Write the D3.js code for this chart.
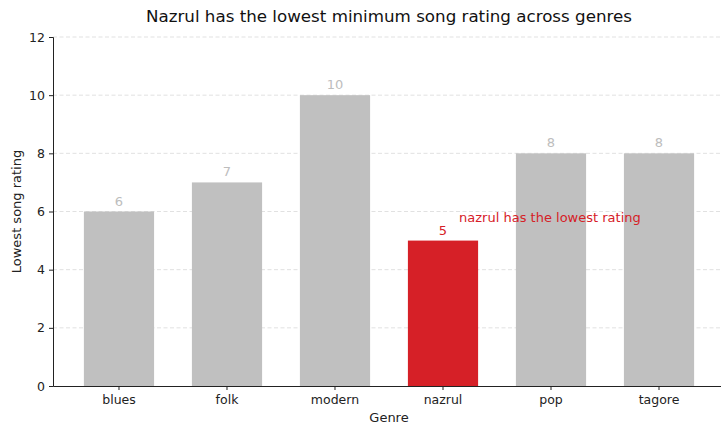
<!DOCTYPE html>
<html><head><meta charset="utf-8">
<script src="https://cdn.jsdelivr.net/npm/d3@7"></script>
<style>body{margin:0;background:#fff}svg{display:block;font-family:"DejaVu Sans",sans-serif}</style>
</head><body><svg id="c" width="721" height="426"></svg>
<script>
const genres = ["blues","folk","modern","nazrul","pop","tagore"];
const minRatings = [6,7,10,5,8,8];
const yTicks = [0,2,4,6,8,10,12];
const highlight = "nazrul";
const titleText = "Nazrul has the lowest minimum song rating across genres";
const annotation = "nazrul has the lowest rating";

(function(){
const svg = d3.select("#c");
const mLeft = 53, mRight = 725, mTop = 37, mBottom = 386;
const x = d3.scaleBand().domain(genres).range([mLeft, mRight]).paddingInner(0.35).paddingOuter(0.286);
const y = d3.scaleLinear().domain([0,12]).range([mBottom, mTop]);

// grid
svg.append("g").selectAll("line").data(yTicks.filter(d=>d>0)).join("line")
  .attr("x1", mLeft).attr("x2", 721).attr("y1", d=>y(d)).attr("y2", d=>y(d))
  .attr("stroke", "#d9d9d9").attr("stroke-width", 0.8).attr("stroke-dasharray", "4,2.5");

const data = genres.map((g,i)=>({g, v:minRatings[i]}));
svg.append("g").selectAll("rect").data(data).join("rect")
  .attr("x", d=>x(d.g)).attr("width", x.bandwidth())
  .attr("y", d=>y(d.v)).attr("height", d=>y(0)-y(d.v))
  .attr("fill", d=>d.g===highlight ? "#d62027" : "#c0c0c0");

svg.append("g").selectAll("text").data(data).join("text")
  .attr("x", d=>x(d.g)+x.bandwidth()/2).attr("y", d=>y(d.v)-6)
  .attr("text-anchor","middle").attr("font-size", 13)
  .attr("fill", d=>d.g===highlight ? "#d62027" : "#bdbdbd")
  .text(d=>d.v);

// axes
const yAxis = svg.append("g").attr("transform", `translate(${mLeft},0)`)
  .call(d3.axisLeft(y).tickValues(yTicks).tickSize(4).tickPadding(4));
yAxis.selectAll("text").attr("font-size", 12.5).attr("fill","#222").attr("font-family","DejaVu Sans");
yAxis.select(".domain").attr("stroke","#222");
yAxis.selectAll(".tick line").attr("stroke","#222");

const xAxis = svg.append("g").attr("transform", `translate(0,${mBottom})`)
  .call(d3.axisBottom(x).tickSize(4).tickPadding(5).tickSizeOuter(0));
xAxis.selectAll("text").attr("font-size", 12.5).attr("fill","#222").attr("font-family","DejaVu Sans");
xAxis.select(".domain").attr("stroke","#222");
xAxis.selectAll(".tick line").attr("stroke","#222");

// annotation
const nz = data.find(d=>d.g===highlight);
svg.append("text").attr("x", x(highlight)+x.bandwidth()-19).attr("y", y(nz.v+0.75)+3)
  .attr("font-size", 13).attr("fill","#d62027").text(annotation);

// titles
svg.append("text").attr("x", 389).attr("y", 22).attr("text-anchor","middle")
  .attr("font-size", 16.7).attr("fill","#111").text(titleText);
svg.append("text").attr("x", 389).attr("y", 422).attr("text-anchor","middle")
  .attr("font-size", 13).attr("fill","#222").text("Genre");
svg.append("text").attr("transform", `translate(21,${(mTop+mBottom)/2}) rotate(-90)`)
  .attr("text-anchor","middle").attr("font-size", 13).attr("fill","#222").text("Lowest song rating");
})();
</script></body></html>
